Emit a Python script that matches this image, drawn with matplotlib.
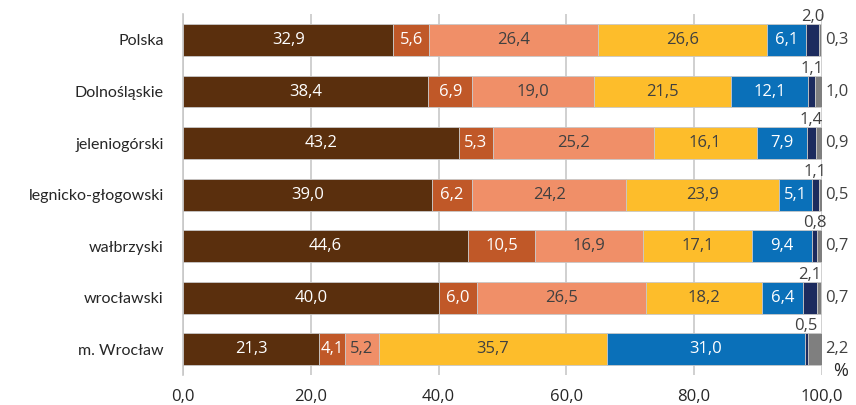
import numpy as np
import matplotlib
matplotlib.use("Agg")
import matplotlib.pyplot as plt

plt.rcParams["font.family"] = ["Lato", "DejaVu Sans"]
num_font = ["Open Sans", "DejaVu Sans"]

categories = ["Polska", "Dolnośląskie", "jeleniogórski", "legnicko-głogowski",
              "wałbrzyski", "wrocławski", "m. Wrocław"]

s1 = [32.9, 38.4, 43.2, 39.0, 44.6, 40.0, 21.3]
s2 = [5.6, 6.9, 5.3, 6.2, 10.5, 6.0, 4.1]
s3 = [26.4, 19.0, 25.2, 24.2, 16.9, 26.5, 5.2]
s4 = [26.6, 21.5, 16.1, 23.9, 17.1, 18.2, 35.7]
s5 = [6.1, 12.1, 7.9, 5.1, 9.4, 6.4, 31.0]
s6 = [2.0, 1.1, 1.4, 1.1, 0.8, 2.1, 0.5]
s7 = [0.3, 1.0, 0.9, 0.5, 0.7, 0.7, 2.2]

series = [s1, s2, s3, s4, s5, s6, s7]
colors = ["#5a2f0d", "#c05828", "#f08f68", "#fdbd2b", "#0a70b9", "#1c2b5e", "#7f7f7f"]
text_colors = ["white", "white", "#404040", "#404040", "white", None, None]


def fmt(v):
    return f"{v:.1f}".replace(".", ",")


fig = plt.figure(figsize=(8.56, 4.05), dpi=100)
ax = fig.add_axes([0.214, 0.074, 0.746, 0.891])

y = np.arange(len(categories))
left = np.zeros(len(categories))
for k, vals in enumerate(series):
    vals = np.array(vals)
    ax.barh(y, vals, left=left, height=0.62, color=colors[k],
            edgecolor="#c8c8c8", linewidth=0.6, zorder=3)
    for i, v in enumerate(vals):
        if k < 5:
            ax.text(left[i] + v / 2, y[i], fmt(v), ha="center", va="center",
                    color=text_colors[k], fontsize=12, family=num_font, zorder=4)
        elif k == 5:
            ax.text(left[i] + v / 2, y[i] - 0.29, fmt(v), ha="center", va="bottom",
                    color="#404040", fontsize=12, family=num_font, zorder=4)
        else:
            ax.text(left[i] + v + 0.6, y[i], fmt(v), ha="left", va="center",
                    color="#404040", fontsize=12, family=num_font, zorder=4)
    left = left + vals

ax.set_xlim(0, 100)
ax.set_ylim(len(categories) - 0.5, -0.5)
ax.set_yticks(y)
ax.set_yticklabels(categories, fontsize=11.5, color="#262626")
ax.set_xticks([0, 20, 40, 60, 80, 100])
ax.set_xticklabels([fmt(t) for t in [0, 20, 40, 60, 80, 100]], fontsize=12,
                   color="#262626", family=num_font)
ax.tick_params(axis="y", length=0, pad=14)
ax.tick_params(axis="x", length=0, pad=10)
ax.xaxis.grid(True, color="#c8c8c8", linewidth=1.2, zorder=0)
for side in ["top", "right", "bottom"]:
    ax.spines[side].set_visible(False)
ax.spines["left"].set_color("#c8c8c8")
ax.spines["left"].set_linewidth(1.2)

fig.text(0.982, 0.085, "%", ha="center", va="center", fontsize=13,
         color="#262626", family=num_font)

fig.savefig("out.png", dpi=100)
